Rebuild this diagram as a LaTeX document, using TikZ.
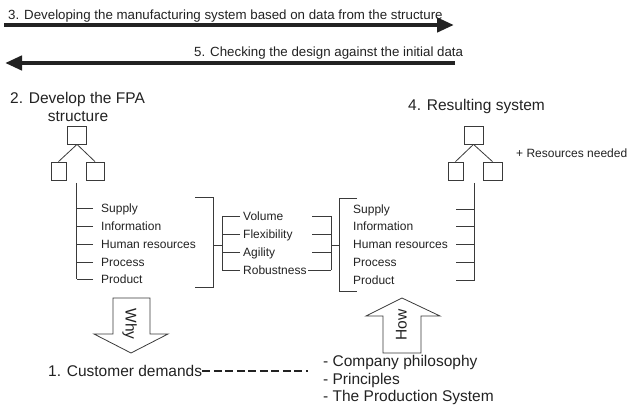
\documentclass[tikz,border=0pt]{standalone}
\usepackage{fontspec}
\setmainfont{Liberation Sans}
\usetikzlibrary{arrows.meta}
\definecolor{ink}{HTML}{222222}
\definecolor{rule}{HTML}{3A3A3A}
\begin{document}
\begin{tikzpicture}[x=1pt,y=-1pt,
  txt/.style={inner sep=0pt, text=ink},
  caption/.style={txt, font=\fontsize{13.3}{16}\selectfont, anchor=base west},
  head/.style={txt, font=\fontsize{15.5}{18}\selectfont, anchor=base west},
  item/.style={txt, font=\fontsize{12}{14}\selectfont, text height=8.6pt, text depth=0pt, anchor=west},
  lower/.style={txt, font=\fontsize{15.5}{18}\selectfont, text height=11pt, text depth=0pt, anchor=west},
  flowarrow/.style={draw=ink, line width=4.5pt, -{Triangle[length=17pt,width=14pt]}},
  wire/.style={draw=rule, line width=0.8pt},
  box/.style={draw=rule, line width=0.8pt, minimum height=18pt, inner sep=0pt},
  fat/.style={draw=rule, line width=0.8pt, fill=white},
  dashline/.style={draw=ink, line width=1.7pt, dash pattern=on 8pt off 3.5pt},
  arrowtext/.style={txt, font=\fontsize{15.5}{18}\selectfont, text height=11pt, text depth=0pt},
]
\useasboundingbox (0,0) rectangle (629,406);

% process arrows across the top
\coordinate (fwdStart) at (4,25);
\coordinate (fwdEnd) at (454,25);
\coordinate (backStart) at (455,63);
\coordinate (backEnd) at (5,63);
\draw[flowarrow] (fwdStart) -- (fwdEnd);
\draw[flowarrow] (backStart) -- (backEnd);
\node[caption] (step3) at (8,20) {3. Developing the manufacturing system based on data from the structure};
\node[caption] (step5) at (194,56.7) {5. Checking the design against the initial data};

% headings
\node[head] (step2) at (10,103.3) {2. Develop the FPA};
\node[head, anchor=base] (step2b) at (78,121.7) {structure};
\node[head] (step4) at (408,111) {4. Resulting system};
\node[txt, font=\fontsize{12}{14}\selectfont, anchor=base west] (extra) at (516,157.3) {+ Resources needed};

% FPA structure tree (left)
\node[box, minimum width=19pt] (ltop) at (77,135) {};
\node[box, minimum width=15pt] (lleft) at (58.5,171) {};
\node[box, minimum width=18pt] (lright) at (95,171) {};
\draw[wire] (ltop.south) -- (lleft.north);
\draw[wire] (ltop.south) -- (lright.north);

% resulting system tree (right)
\node[box, minimum width=19pt] (rtop) at (473.5,135) {};
\node[box, minimum width=15pt] (rleft) at (455.5,171) {};
\node[box, minimum width=19pt] (rright) at (492.5,171) {};
\draw[wire] (rtop.south) -- (rleft.north);
\draw[wire] (rtop.south) -- (rright.north);

% left list of areas
\foreach \y/\n/\t in {208/s/Supply, 226/i/Information, 244/h/Human resources, 262/p/Process, 279/q/Product} {
  \node[item] (L\n) at (101,\y) {\t};
  \draw[wire] ([xshift=-8pt]L\n.west) -- ([xshift=-24.5pt]L\n.west);
}
\coordinate (lspineTop) at (76.5,183);
\draw[wire] (lspineTop) -- ([xshift=-24.5pt]Lq.west);

% right list of areas
\foreach \y/\n/\t in {209/s/Supply, 226/i/Information, 244/h/Human resources, 262/p/Process, 280/q/Product} {
  \node[item] (R\n) at (353,\y) {\t};
  \draw[wire] (456,\y) -- (474,\y);
}
\coordinate (rspineTop) at (474,183);
\coordinate (rspineBot) at (474,280.5);
\draw[wire] (rspineTop) -- (rspineBot);

% middle list of properties
\foreach \y/\n/\t in {216/v/Volume, 234/f/Flexibility, 252/a/Agility, 270/r/Robustness} {
  \node[item] (M\n) at (243,\y) {\t};
  \draw[wire] ([xshift=-3pt]M\n.west) -- ([xshift=-21pt]M\n.west);
}
\foreach \n in {v,f,a} { \draw[wire] (M\n.west -| 312,0) -- (M\n.west -| 331,0); }
\draw[wire] ([xshift=1.5pt]Mr.east) -- (Mr.west -| 331,0);

% brackets joining the lists
\draw[wire] (195,197) -- (213,197) -- (213,287) -- (195,287);
\draw[wire] (213,245) -- (222,245);
\draw[wire] (Mv.west -| 222,0) -- (Mr.west -| 222,0);
\draw[wire] (Mv.west -| 331,0) -- (Mr.west -| 331,0);
\draw[wire] (331,245) -- (339,245);
\draw[wire] (357,198) -- (339,198) -- (339,291) -- (357,291);

% Why / How block arrows
\draw[fat] (113,298) -- (150,298) -- (150,334) -- (168,334) -- (131,353) -- (94,334) -- (113,334) -- cycle;
\node[arrowtext, rotate=-90] (why) at (131,324) {Why};
\draw[fat] (383,353) -- (421,353) -- (421,316) -- (440,316) -- (402,298) -- (366,316) -- (383,316) -- cycle;
\node[arrowtext, rotate=90] (how) at (401,325) {How};

% bottom texts
\node[lower] (demands) at (48,371.2) {1. Customer demands};
\node[lower] (phil) at (323,360.5) {- Company philosophy};
\node[lower] (princ) at (323,378.5) {- Principles};
\node[lower] (prodsys) at (323,396.2) {- The Production System};
\coordinate (dashEnd) at (308,371.2);
\draw[dashline] (demands.east) -- (dashEnd);
\end{tikzpicture}
\end{document}
